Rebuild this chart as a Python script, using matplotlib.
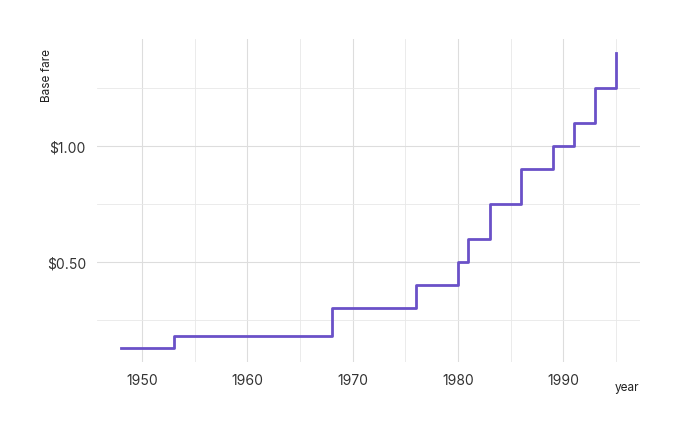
import matplotlib
matplotlib.use("Agg")
import matplotlib.pyplot as plt
from matplotlib.ticker import MultipleLocator, FuncFormatter

# Fare change years and base fare
years = [1948, 1953, 1968, 1976, 1980, 1981, 1983, 1986, 1989, 1991, 1993, 1995]
fares = [0.13, 0.18, 0.30, 0.40, 0.50, 0.60, 0.75, 0.90, 1.00, 1.10, 1.25, 1.40]

plt.rcParams['font.family'] = ['Inter', 'DejaVu Sans']

fig = plt.figure(figsize=(6.8, 4.35), dpi=100, facecolor='white')
ax = fig.add_axes([97/680, 1 - 363/435, (640-97)/680, (363-40)/435])

ax.plot(years, fares, drawstyle='steps-post', color='#6a51c8', linewidth=2)

ax.set_xlim(1945.7, 1997.3)
ax.set_ylim(0.069, 1.461)
ax.xaxis.set_major_locator(MultipleLocator(10))
ax.xaxis.set_minor_locator(MultipleLocator(5))
ax.yaxis.set_major_locator(MultipleLocator(0.5))
ax.yaxis.set_minor_locator(MultipleLocator(0.25))
ax.yaxis.set_major_formatter(FuncFormatter(lambda v, p: f"${v:.2f}"))

ax.grid(which='major', color='#dddddd', linewidth=0.8)
ax.grid(which='minor', color='#e8e8e8', linewidth=0.6)
ax.set_axisbelow(True)
for s in ax.spines.values():
    s.set_visible(False)
ax.tick_params(which='both', length=0, labelsize=10, colors='#333333', pad=8)

fig.text(47/680, 1 - 75/435, 'Base fare', rotation=90, ha='center', va='center',
         fontsize=8.5, color='#222222')
fig.text(639/680, 1 - 388/435, 'year', ha='right', va='center',
         fontsize=8.5, color='#222222')

fig.savefig('out.png', dpi=100)
